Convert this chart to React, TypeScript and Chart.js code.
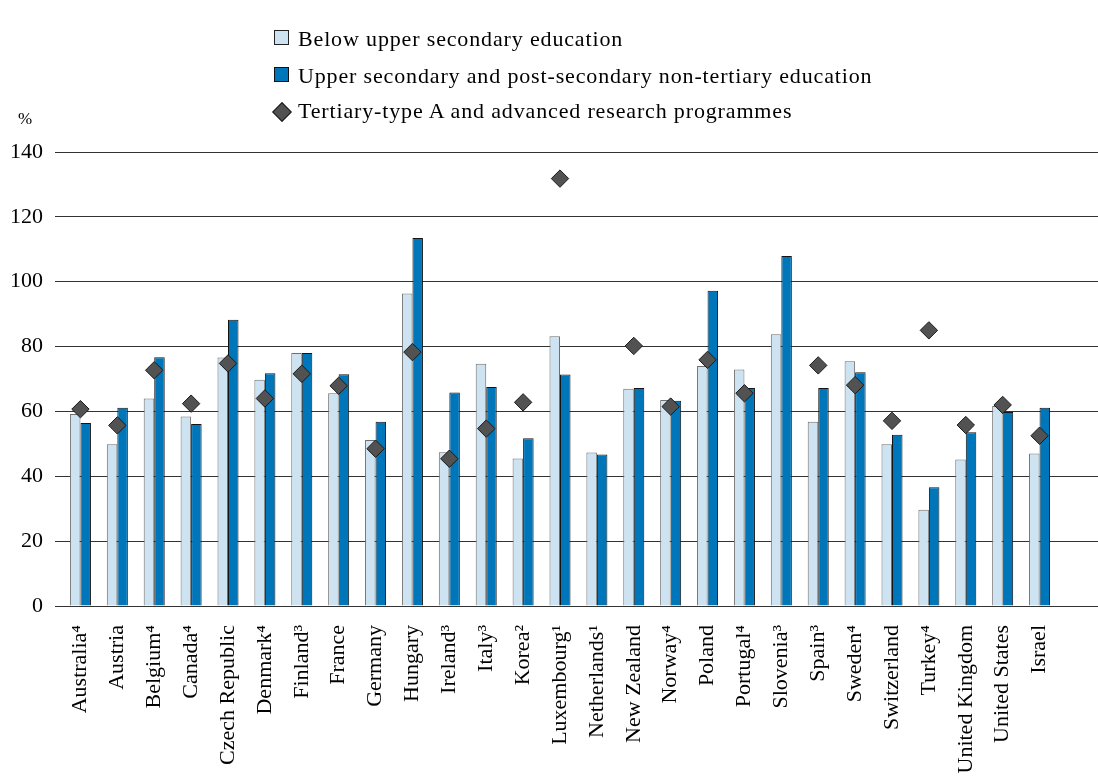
import React, { useEffect, useRef } from "react";
import { Chart, registerables } from "chart.js";

Chart.register(...registerables);

const categories = [
  "Australia⁴", "Austria", "Belgium⁴", "Canada⁴", "Czech Republic", "Denmark⁴", "Finland³",
  "France", "Germany", "Hungary", "Ireland³", "Italy³", "Korea²", "Luxembourg¹", "Netherlands¹",
  "New Zealand", "Norway⁴", "Poland", "Portugal⁴", "Slovenia³", "Spain³", "Sweden⁴",
  "Switzerland", "Turkey⁴", "United Kingdom", "United States", "Israel",
];

const belowUpperSecondary = [
  59.2, 49.9, 64.0, 58.4, 76.6, 69.8, 78.0, 65.6, 51.2, 96.4, 47.4, 74.7, 45.5, 83.2, 47.3,
  67.0, 63.5, 74.0, 72.9, 83.8, 56.8, 75.5, 49.9, 29.7, 45.2, 61.7, 47.0,
];

const upperSecondary = [
  56.4, 61.1, 76.7, 56.1, 88.3, 71.8, 78.0, 71.5, 56.8, 113.5, 65.8, 67.5, 51.7, 71.4, 46.7,
  67.2, 63.3, 97.2, 67.2, 107.9, 67.2, 72.1, 52.8, 36.6, 53.6, 59.8, 61.1,
];

const tertiaryA: (number | null)[] = [
  60.7, 55.7, 72.7, 62.4, 74.8, 64.0, 71.6, 67.9, 48.5, 78.3, 45.4, 54.7, 62.8, 131.8, null,
  80.2, 61.5, 75.9, 65.6, null, 74.2, 68.1, 57.1, 85.0, 55.8, 62.0, 52.5,
];

const seriesNames = [
  "Below upper secondary education",
  "Upper secondary and post-secondary non-tertiary education",
  "Tertiary-type A and advanced research programmes",
];

const yMin = 0;
const yMax = 140;
const yStep = 20;

const FONT = "'Liberation Serif', 'Times New Roman', serif";
const LIGHT = "#cde3f1";
const LIGHT_BORDER = "#6f6f6f";
const DARK = "#0076ba";
const DARK_BORDER = "#141414";
const DIAMOND = "#525252";
const DIAMOND_BORDER = "#1a1a1a";
const GRID = "#333333";

export default function App() {
  const canvasRef = useRef<HTMLCanvasElement>(null);

  useEffect(() => {
    const canvas = canvasRef.current;
    if (!canvas) return;
    const chart = new Chart(canvas, {
      type: "bar",
      data: {
        labels: categories,
        datasets: [
          {
            type: "line",
            label: seriesNames[2],
            data: tertiaryA,
            showLine: false,
            pointStyle: "rectRot",
            pointRadius: 8.7,
            pointHoverRadius: 8.7,
            pointBackgroundColor: DIAMOND,
            pointBorderColor: DIAMOND_BORDER,
            pointBorderWidth: 1,
            order: 0,
          } as any,
          {
            type: "bar",
            label: seriesNames[0],
            data: belowUpperSecondary,
            backgroundColor: LIGHT,
            borderColor: LIGHT_BORDER,
            borderWidth: 1,
            categoryPercentage: 0.57,
            barPercentage: 1,
            order: 1,
          },
          {
            type: "bar",
            label: seriesNames[1],
            data: upperSecondary,
            backgroundColor: DARK,
            borderColor: DARK_BORDER,
            borderWidth: 1,
            categoryPercentage: 0.57,
            barPercentage: 1,
            order: 1,
          },
        ],
      },
      options: {
        responsive: false,
        animation: false,
        devicePixelRatio: 1,
        layout: { padding: { top: 152, left: 0, right: 0, bottom: 0 } },
        plugins: {
          legend: { display: false },
          tooltip: { enabled: false },
        },
        scales: {
          x: {
            grid: { display: false },
            border: { display: false },
            ticks: {
              autoSkip: false,
              maxRotation: 90,
              minRotation: 90,
              padding: 11,
              color: "#000",
              font: { family: FONT, size: 22 },
            },
            afterFit: (s: any) => {
              s.height = 173;
            },
          },
          y: {
            min: yMin,
            max: yMax,
            ticks: {
              stepSize: yStep,
              padding: 12,
              color: "#000",
              font: { family: FONT, size: 22 },
            },
            grid: { color: GRID, lineWidth: 1, tickLength: 7 },
            border: { display: false },
            afterFit: (s: any) => {
              s.width = 62;
            },
          },
          y2: {
            position: "right",
            min: yMin,
            max: yMax,
            ticks: { stepSize: yStep, display: false },
            grid: { drawOnChartArea: false, color: GRID, lineWidth: 1, tickLength: 40 },
            border: { display: false },
            afterFit: (s: any) => {
              s.width = 40;
            },
          },
        },
      },
    });
    return () => chart.destroy();
  }, []);

  const textStyle: React.CSSProperties = {
    position: "absolute",
    left: 298,
    fontFamily: FONT,
    fontSize: 22,
    lineHeight: "22px",
    letterSpacing: "0.85px",
    color: "#000",
    whiteSpace: "nowrap",
  };

  return (
    <div
      style={{
        position: "absolute",
        left: 0,
        top: 0,
        width: 1098,
        height: 779,
        background: "#fff",
        overflow: "hidden",
      }}
    >
      <canvas ref={canvasRef} width={1098} height={779} style={{ position: "absolute", left: 0, top: 0 }} />
      <div
        style={{
          position: "absolute",
          left: 274,
          top: 30,
          width: 13,
          height: 13,
          background: LIGHT,
          border: "1px solid #222",
        }}
      />
      <div style={{ ...textStyle, top: 27.5 }}>{seriesNames[0]}</div>
      <div
        style={{
          position: "absolute",
          left: 274,
          top: 66.5,
          width: 13,
          height: 13,
          background: DARK,
          border: "1px solid #111",
        }}
      />
      <div style={{ ...textStyle, top: 64.5 }}>{seriesNames[1]}</div>
      <div
        style={{
          position: "absolute",
          left: 274.5,
          top: 105,
          width: 12,
          height: 12,
          background: DIAMOND,
          border: "1px solid #1a1a1a",
          transform: "rotate(45deg)",
        }}
      />
      <div style={{ ...textStyle, top: 99.5 }}>{seriesNames[2]}</div>
      <div
        style={{
          position: "absolute",
          left: 18,
          top: 110,
          fontFamily: FONT,
          fontSize: 17,
          lineHeight: "17px",
          color: "#000",
        }}
      >
        %
      </div>
    </div>
  );
}
